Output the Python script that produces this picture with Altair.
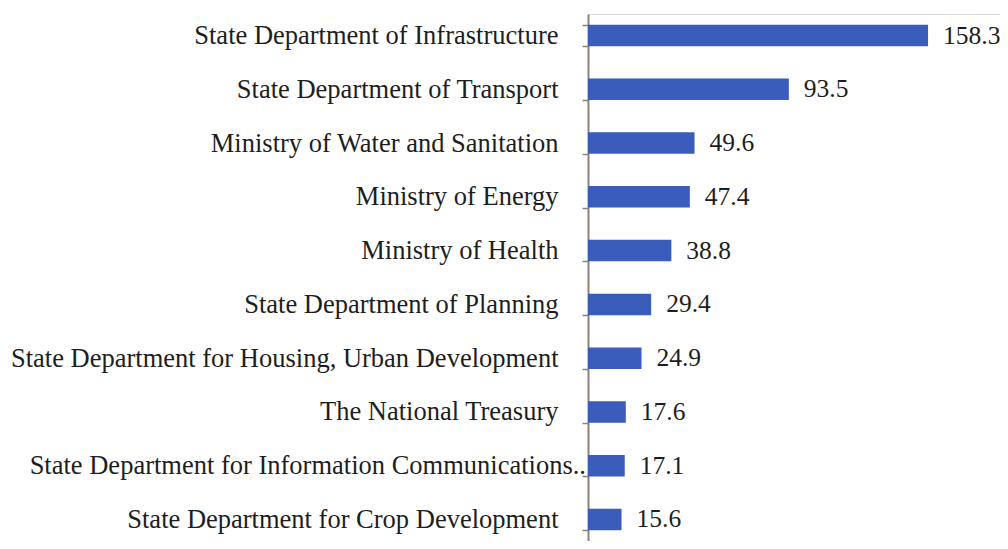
import altair as alt
import pandas as pd

categories = [
    "State Department of Infrastructure",
    "State Department of Transport",
    "Ministry of Water and Sanitation",
    "Ministry  of Energy",
    "Ministry of Health",
    "State Department of Planning",
    "State Department for Housing, Urban Development",
    "The National Treasury",
    "State Department for Information Communications..",
    "State Department for Crop Development",
]
values = [158.3, 93.5, 49.6, 47.4, 38.8, 29.4, 24.9, 17.6, 17.1, 15.6]
long_label = categories[8]

df = pd.DataFrame({"cat": categories, "val": values})
df["lbl"] = df["val"].map(lambda v: f"{v:.1f}")

FONT = "Liberation Serif"

y_scale = alt.Scale(paddingInner=0.6, paddingOuter=0.2)
y = alt.Y(
    "cat:N",
    sort=categories,
    scale=y_scale,
    axis=alt.Axis(
        title=None,
        tickBand="extent",
        tickSize=6,
        tickColor="#8a8178",
        tickWidth=1.5,
        domainColor="#8a8178",
        domainWidth=2,
        labelFont=FONT,
        labelFontSize=26.5,
        labelColor="#1e1e1e",
        labelPadding=24,
        labelLimit=700,
        labelExpr=f"datum.label == '{long_label}' ? '' : datum.label",
    ),
)
x = alt.X("val:Q", scale=alt.Scale(domain=[0, 191.8], nice=False), axis=None)

base = alt.Chart(df)
bars = base.mark_bar(color="#3a5cba").encode(x=x, y=y)
text = base.mark_text(
    align="left", baseline="middle", dx=15, font=FONT, fontSize=25.5, color="#1e1e1e"
).encode(x=x, y=alt.Y("cat:N", sort=categories), text="lbl:N")
long_text = (
    base.transform_filter(alt.datum.cat == long_label)
    .mark_text(align="right", baseline="middle", dx=-2, font=FONT, fontSize=26.5, color="#1e1e1e")
    .encode(x=alt.datum(0), y=alt.Y("cat:N", sort=categories), text="cat:N")
)

chart = (
    alt.layer(bars, text, long_text)
    .properties(
        width=412,
        height=527,
        autosize=alt.AutoSizeParams(type="none"),
        padding={"left": 580, "top": 6, "right": 0, "bottom": 0},
    )
    .configure_view(stroke=None)
    .configure(background="white")
)

chart.save("out.html", embed_options={"renderer": "svg", "actions": False})
